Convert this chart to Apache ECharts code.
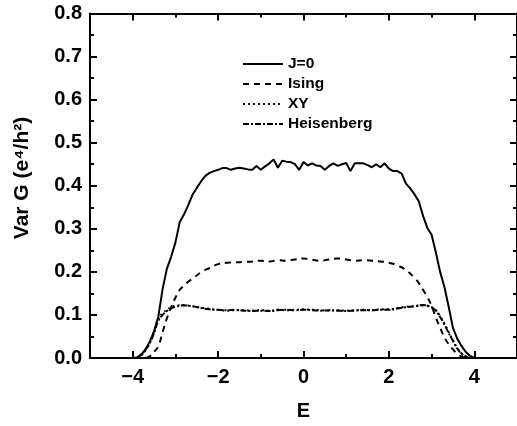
<!DOCTYPE html>
<html>
<head>
<meta charset="utf-8">
<script src="https://cdn.jsdelivr.net/npm/echarts@6/dist/echarts.min.js"></script>
<style>
  html, body { margin: 0; padding: 0; background: #fff; }
  #chart { width: 517px; height: 426px; }
</style>
</head>
<body>
<div id="chart"></div>
<script>
// Conductance variance versus energy for four coupling models.

// Axis ticks
const xMajorTicks = [-4, -2, 0, 2, 4];
const xMinorTicks = [-5, -3, -1, 1, 3, 5];

// J=0 (no spin coupling)
const energyJ0 = [
  -4.0, -3.9, -3.8, -3.7, -3.6, -3.5, -3.4, -3.3, -3.2, -3.1,
  -3.0, -2.9, -2.8, -2.7, -2.6, -2.5, -2.4, -2.3, -2.2, -2.1,
  -2.0, -1.9, -1.8, -1.7, -1.6, -1.5, -1.4, -1.3, -1.2, -1.1,
  -1.0, -0.9, -0.8, -0.7, -0.6, -0.5, -0.4, -0.3, -0.2, -0.1,
   0.0,  0.1,  0.2,  0.3,  0.4,  0.5,  0.6,  0.7,  0.8,  0.9,
   1.0,  1.1,  1.2,  1.3,  1.4,  1.5,  1.6,  1.7,  1.8,  1.9,
   2.0,  2.1,  2.2,  2.3,  2.4,  2.5,  2.6,  2.7,  2.8,  2.9,
   3.0,  3.1,  3.2,  3.3,  3.4,  3.5,  3.6,  3.7,  3.8,  3.9,
   4.0
];
const varJ0 = [
  0.000, 0.001, 0.008, 0.020, 0.038, 0.062, 0.096, 0.160, 0.207, 0.235,
  0.268, 0.315, 0.333, 0.355, 0.379, 0.395, 0.410, 0.423, 0.430, 0.434,
  0.437, 0.441, 0.441, 0.437, 0.440, 0.442, 0.440, 0.438, 0.437, 0.446,
  0.437, 0.445, 0.452, 0.461, 0.442, 0.458, 0.456, 0.455, 0.450, 0.437,
  0.455, 0.447, 0.452, 0.447, 0.446, 0.437, 0.446, 0.452, 0.446, 0.450,
  0.453, 0.434, 0.452, 0.452, 0.452, 0.448, 0.443, 0.450, 0.443, 0.452,
  0.440, 0.434, 0.434, 0.428, 0.405, 0.394, 0.380, 0.364, 0.330, 0.302,
  0.286, 0.245, 0.200, 0.165, 0.119, 0.070, 0.045, 0.028, 0.014, 0.005,
  0.000
];

// Ising coupling
const energyIsing = [
  -3.7, -3.6, -3.5, -3.4, -3.3, -3.2, -3.1, -3.0, -2.9, -2.8,
  -2.7, -2.6, -2.4, -2.2, -2.0, -1.8, -1.6, -1.4, -1.2, -1.0,
  -0.8, -0.6, -0.4, -0.2,  0.0,  0.2,  0.4,  0.6,  0.8,  1.0,
   1.2,  1.4,  1.6,  1.8,  2.0,  2.2,  2.4,  2.6,  2.7,  2.8,
   2.9,  3.0,  3.1,  3.2,  3.3,  3.4,  3.5,  3.6,  3.7,  3.8
];
const varIsing = [
  0.000, 0.004, 0.014, 0.028, 0.060, 0.092, 0.118, 0.140, 0.158, 0.168,
  0.177, 0.184, 0.199, 0.209, 0.218, 0.221, 0.222, 0.223, 0.224, 0.226,
  0.224, 0.227, 0.226, 0.229, 0.231, 0.228, 0.226, 0.229, 0.231, 0.229,
  0.226, 0.227, 0.226, 0.224, 0.221, 0.215, 0.204, 0.186, 0.174, 0.158,
  0.142, 0.121, 0.094, 0.070, 0.048, 0.032, 0.020, 0.010, 0.003, 0.000
];

// XY coupling
const energyXY = [
  -3.9, -3.8, -3.7, -3.6, -3.5, -3.4, -3.3, -3.2, -3.1, -3.0,
  -2.8, -2.6, -2.4, -2.2, -2.0, -1.8, -1.6, -1.4, -1.2, -1.0,
  -0.8, -0.6, -0.4, -0.2,  0.0,  0.2,  0.4,  0.6,  0.8,  1.0,
   1.2,  1.4,  1.6,  1.8,  2.0,  2.2,  2.4,  2.6,  2.8,  3.0,
   3.1,  3.2,  3.3,  3.4,  3.5,  3.6,  3.7,  3.8,  3.9
];
const varXY = [
  0.000, 0.006, 0.018, 0.036, 0.062, 0.090, 0.104, 0.112, 0.118, 0.121,
  0.123, 0.120, 0.117, 0.114, 0.112, 0.110, 0.111, 0.111, 0.110, 0.111,
  0.110, 0.112, 0.111, 0.112, 0.113, 0.112, 0.111, 0.110, 0.111, 0.110,
  0.111, 0.112, 0.111, 0.113, 0.113, 0.116, 0.119, 0.121, 0.122, 0.118,
  0.111, 0.097, 0.080, 0.060, 0.041, 0.024, 0.011, 0.004, 0.000
];

// Heisenberg coupling
const energyHeis = [
  -3.9, -3.8, -3.7, -3.6, -3.5, -3.4, -3.3, -3.2, -3.1, -3.0,
  -2.8, -2.6, -2.4, -2.2, -2.0, -1.8, -1.6, -1.4, -1.2, -1.0,
  -0.8, -0.6, -0.4, -0.2,  0.0,  0.2,  0.4,  0.6,  0.8,  1.0,
   1.2,  1.4,  1.6,  1.8,  2.0,  2.2,  2.4,  2.6,  2.8,  3.0,
   3.1,  3.2,  3.3,  3.4,  3.5,  3.6,  3.7,  3.8,  3.9
];
const varHeis = [
  0.000, 0.008, 0.020, 0.035, 0.058, 0.086, 0.100, 0.109, 0.115, 0.119,
  0.122, 0.120, 0.116, 0.113, 0.112, 0.111, 0.112, 0.110, 0.109, 0.110,
  0.109, 0.111, 0.112, 0.111, 0.112, 0.111, 0.110, 0.111, 0.110, 0.109,
  0.110, 0.111, 0.111, 0.112, 0.112, 0.115, 0.118, 0.120, 0.123, 0.117,
  0.110, 0.095, 0.078, 0.058, 0.040, 0.022, 0.010, 0.003, 0.000
];

const pairs = (xs, ys) => xs.map((x, i) => [x, ys[i]]);

const FONT = '"Liberation Sans", Arial, sans-serif';
const INK = '#000';

const chart = echarts.init(document.getElementById('chart'), null, { renderer: 'canvas' });

const hiddenLabel = { show: false };
const frameLine = { show: true, onZero: false, lineStyle: { color: INK, width: 2 } };
const noLine = { show: false, onZero: false };

const option = {
  animation: false,
  backgroundColor: '#fff',
  grid: { left: 90, right: -2, top: 13.5, bottom: 64, containLabel: false },
  legend: {
    orient: 'vertical',
    left: 237,
    top: 51,
    itemWidth: 40,
    itemHeight: 14,
    itemGap: 4,
    itemStyle: { color: 'rgba(0,0,0,0)', borderWidth: 0, opacity: 0 },
    textStyle: { fontFamily: FONT, fontWeight: 'bold', fontSize: 15.5, color: INK },
    data: ['J=0', 'Ising', 'XY', 'Heisenberg']
  },
  xAxis: [
    {
      type: 'value', min: -5, max: 5, position: 'bottom',
      axisLine: frameLine,
      axisTick: { show: true, inside: true, length: 7, customValues: xMajorTicks, lineStyle: { color: INK, width: 2 } },
      axisLabel: {
        show: true, customValues: xMajorTicks, margin: 9,
        fontFamily: FONT, fontWeight: 'bold', fontSize: 20, color: INK,
        formatter: v => String(v).replace('-', '\u2212')
      },
      splitLine: { show: false },
      name: 'E', nameLocation: 'middle', nameGap: 43,
      nameTextStyle: { fontFamily: FONT, fontWeight: 'bold', fontSize: 20, color: INK }
    },
    {
      type: 'value', min: -5, max: 5, position: 'bottom',
      axisLine: noLine,
      axisTick: { show: true, inside: true, length: 4, customValues: xMinorTicks, lineStyle: { color: INK, width: 2 } },
      axisLabel: hiddenLabel, splitLine: { show: false }
    },
    {
      type: 'value', min: -5, max: 5, position: 'top',
      axisLine: frameLine,
      axisTick: { show: true, inside: true, length: 7, customValues: xMajorTicks, lineStyle: { color: INK, width: 2 } },
      axisLabel: hiddenLabel, splitLine: { show: false }
    },
    {
      type: 'value', min: -5, max: 5, position: 'top',
      axisLine: noLine,
      axisTick: { show: true, inside: true, length: 4, customValues: xMinorTicks, lineStyle: { color: INK, width: 2 } },
      axisLabel: hiddenLabel, splitLine: { show: false }
    }
  ],
  yAxis: [
    {
      type: 'value', min: 0, max: 0.8, interval: 0.1, position: 'left',
      axisLine: frameLine,
      axisTick: { show: true, inside: true, length: 7, lineStyle: { color: INK, width: 2 } },
      minorTick: { show: true, splitNumber: 2, length: 4, lineStyle: { color: INK, width: 2 } },
      axisLabel: {
        margin: 8, fontFamily: FONT, fontWeight: 'bold', fontSize: 20, color: INK,
        formatter: v => v.toFixed(1)
      },
      splitLine: { show: false }, minorSplitLine: { show: false }
    },
    {
      type: 'value', min: 0, max: 0.8, interval: 0.1, position: 'right',
      axisLine: frameLine,
      axisTick: { show: true, inside: true, length: 7, lineStyle: { color: INK, width: 2 } },
      minorTick: { show: true, splitNumber: 2, length: 4, lineStyle: { color: INK, width: 2 } },
      axisLabel: hiddenLabel,
      splitLine: { show: false }, minorSplitLine: { show: false }
    }
  ],
  graphic: [
    {
      type: 'text', x: 22, y: 178, rotation: Math.PI / 2,
      style: {
        text: 'Var G (e\u2074/h\u00b2)',
        font: 'bold 21px ' + FONT, fill: INK,
        textAlign: 'center', textVerticalAlign: 'middle'
      }
    }
  ],
  series: [
    {
      name: 'J=0', type: 'line', data: pairs(energyJ0, varJ0),
      symbol: 'none', showSymbol: false, smooth: false,
      lineStyle: { color: INK, width: 2, type: 'solid' },
      itemStyle: { color: INK }, z: 4
    },
    {
      name: 'Ising', type: 'line', data: pairs(energyIsing, varIsing),
      symbol: 'none', showSymbol: false, smooth: true,
      lineStyle: { color: INK, width: 2, type: [6, 5] },
      itemStyle: { color: INK }, z: 3
    },
    {
      name: 'XY', type: 'line', data: pairs(energyXY, varXY),
      symbol: 'none', showSymbol: false, smooth: true,
      lineStyle: { color: INK, width: 2, type: [2, 3] },
      itemStyle: { color: INK }, z: 2
    },
    {
      name: 'Heisenberg', type: 'line', data: pairs(energyHeis, varHeis),
      symbol: 'none', showSymbol: false, smooth: true,
      lineStyle: { color: INK, width: 2, type: [6, 2, 2, 2] },
      itemStyle: { color: INK }, z: 2
    }
  ]
};

chart.setOption(option);
</script>
</body>
</html>
